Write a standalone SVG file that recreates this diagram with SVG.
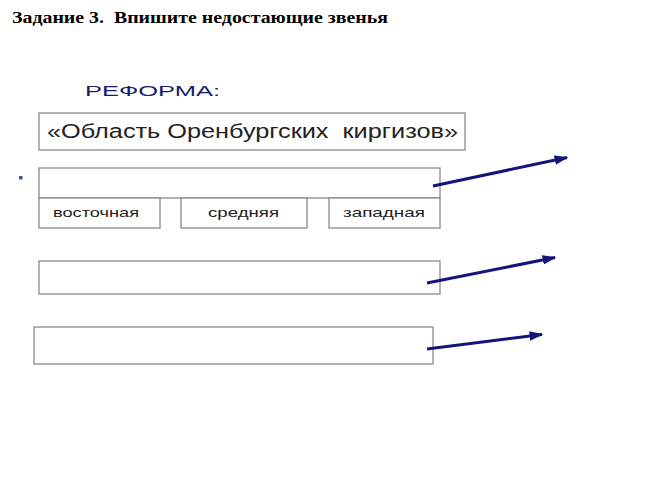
<svg xmlns="http://www.w3.org/2000/svg" width="660" height="485" viewBox="0 0 660 485">
<style>
.box{fill:#fff;stroke:#8a8a8a;stroke-width:1.3}
.t{font-family:"Liberation Sans",Arial,sans-serif;fill:#222}
.arr{stroke:#14147a;stroke-width:3;fill:none}
text{white-space:pre}
</style>
<defs>
<marker id="ah" viewBox="0 0 10 10" refX="9" refY="5" markerWidth="4.6" markerHeight="3.2" orient="auto" markerUnits="strokeWidth" preserveAspectRatio="none">
<path d="M0,0 L10,5 L0,10 Z" fill="#14147a"/>
</marker>
</defs>
<rect width="660" height="485" fill="#fff"/>
<text x="12" y="23" font-family="'Liberation Serif','Times New Roman',serif" font-weight="bold" font-size="16.5" fill="#000" textLength="376" lengthAdjust="spacingAndGlyphs" xml:space="preserve">Задание 3.  Впишите недостающие звенья</text>
<text x="85" y="96" font-family="'Liberation Sans',Arial,sans-serif" font-size="14.5" fill="#1a1a6e" textLength="135" lengthAdjust="spacingAndGlyphs">РЕФОРМА:</text>
<g id="node-oblast">
<rect class="box" x="39" y="113" width="426" height="37"/>
<text class="t" x="47" y="138" font-size="19.5" textLength="411" lengthAdjust="spacingAndGlyphs" xml:space="preserve">«Область Оренбургских  киргизов»</text>
</g>
<rect x="19" y="176" width="3.5" height="3.5" fill="#3a5a9a"/>
<g id="node-2">
<rect class="box" x="39" y="168" width="401" height="30"/>
</g>
<g id="node-vost">
<rect class="box" x="39" y="198" width="121" height="30"/>
<text class="t" x="53" y="217" font-size="13.5" textLength="86" lengthAdjust="spacingAndGlyphs">восточная</text>
</g>
<g id="node-sred">
<rect class="box" x="181" y="198" width="126" height="30"/>
<text class="t" x="208" y="217" font-size="13.5" textLength="71" lengthAdjust="spacingAndGlyphs">средняя</text>
</g>
<g id="node-zap">
<rect class="box" x="329" y="198" width="111" height="30"/>
<text class="t" x="343" y="217" font-size="13.5" textLength="82" lengthAdjust="spacingAndGlyphs">западная</text>
</g>
<g id="node-3">
<rect class="box" x="39" y="261" width="401" height="33"/>
</g>
<g id="node-4">
<rect class="box" x="34" y="327" width="399" height="37"/>
</g>
<g id="connectors">
<line class="arr" x1="433" y1="186" x2="567" y2="157.5" marker-end="url(#ah)"/>
<line class="arr" x1="427" y1="283" x2="555" y2="257.5" marker-end="url(#ah)"/>
<line class="arr" x1="427" y1="349" x2="542" y2="334.5" marker-end="url(#ah)"/>
</g>
</svg>
